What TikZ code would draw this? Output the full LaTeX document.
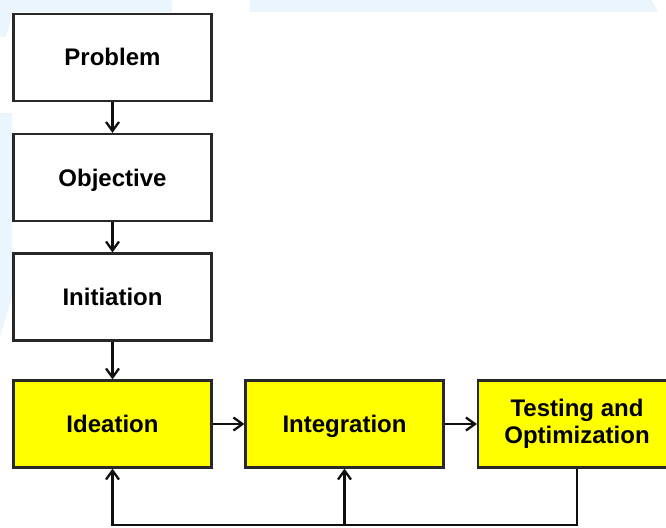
\documentclass[tikz,border=0pt]{standalone}
\usepackage{fontspec}
\setmainfont{Liberation Sans}
\usetikzlibrary{arrows.meta}

\tikzset{
  boxbase/.style={draw={rgb, 255:red, 40; green, 40; blue, 40}, line width=2.2pt, fill=white,
    minimum width=198pt, minimum height=87pt, inner sep=0pt, align=center,
    font=\fontsize{24}{27}\selectfont\bfseries},
  stagebox/.style={boxbase, text height=17pt, text depth=0pt},
  loopfill/.style={fill={rgb, 255:red, 255; green, 255; blue, 0}},
  flow/.style={line width=2.3pt, draw={rgb, 255:red, 15; green, 15; blue, 15},
    -{Straight Barb[length=9pt,width=13pt]}},
  watermark/.style={fill={rgb, 255:red, 235; green, 245; blue, 254}, draw=none}
}

\begin{document}
\begin{tikzpicture}[x=1pt,y=1pt,yscale=-1,xscale=1]
\useasboundingbox (0,0) rectangle (666,527);

%Shape: watermark patches
\path [watermark] (0,0) -- (172,0) -- (172,12) -- (13,12) -- (6,37) -- (0,37) -- cycle ;
\path [watermark] (250,0) -- (652,0) -- (658,12) -- (250,12) -- cycle ;
\path [watermark] (0,113) -- (12,113) -- (12,297) -- (0,337) -- cycle ;

% Text Nodes
\node [stagebox] (problem) at (112.5,57.5) {Problem};
\node [stagebox] (objective) at (112.5,177.5) {Objective};
\node [stagebox] (initiation) at (112.5,297) {Initiation};
\node [stagebox, loopfill] (ideation) at (112.5,424) {Ideation};
\node [stagebox, loopfill] (integration) at (344.5,424) {Integration};
\node [boxbase, loopfill] (testing) at (577,424) {Testing and\\Optimization};

\coordinate (back) at (577,525);
\coordinate (branch) at (integration.south |- back);

%Straight Lines
\draw [flow] (problem) -- (objective);
\draw [flow] (objective) -- (initiation);
\draw [flow] (initiation) -- (ideation);
\draw [flow] (ideation) -- (integration);
\draw [flow] (integration) -- (testing);
%Feedback Lines
\draw [flow] (testing.south) -- (back) -| (ideation.south);
\draw [flow] (branch) -- (integration.south);

\end{tikzpicture}
\end{document}
